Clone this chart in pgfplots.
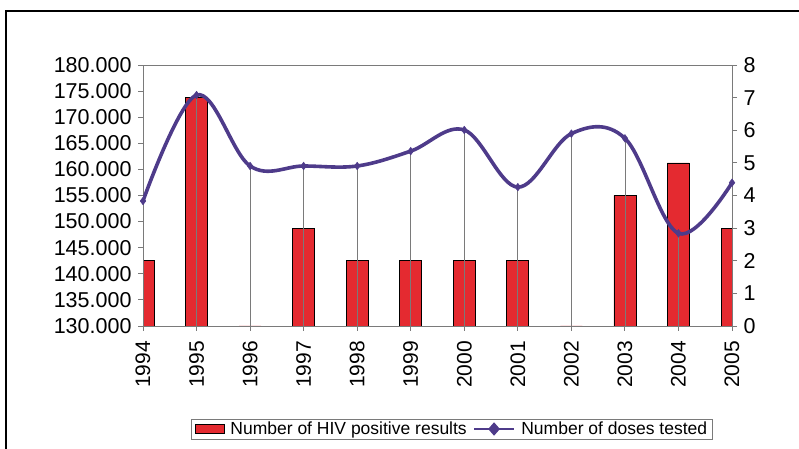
\documentclass[border=0pt]{standalone}
\usepackage{pgfplots}
\pgfplotsset{compat=1.18}
\usepackage{fontspec}
\setmainfont{Liberation Sans}
\definecolor{barred}{HTML}{E42A30}
\definecolor{linepurple}{HTML}{4E3B8A}
\definecolor{axgray}{HTML}{7A7A7A}
\begin{document}
\begin{tikzpicture}[x=1bp,y=1bp]
\useasboundingbox (0,0) rectangle (799,449);
\draw[black, line width=1.1bp] (6,-5) -- (6,438) -- (805,438);
% bars: right axis
\begin{axis}[
  at={(143bp,123bp)}, anchor=south west, scale only axis,
  width=589bp, height=261bp,
  xmin=1994, xmax=2005, ymin=0, ymax=8,
  axis x line=none, axis y line*=right,
  ytick={0,1,...,8},
  yticklabels={0,1,2,3,4,5,6,7,8},
  tick align=outside, major tick length=5bp,
  axis line style={draw=axgray, line width=0.9bp},
  every tick/.style={draw=axgray, line width=0.9bp},
  yticklabel style={font=\fontsize{21.5bp}{23bp}\selectfont, xshift=3bp},
]
\addplot[ybar, bar width=22bp, fill=barred, draw=black, line width=0.7bp]
 coordinates {(1994,2) (1995,7) (1996,0) (1997,3) (1998,2) (1999,2) (2000,2) (2001,2) (2002,0) (2003,4) (2004,5) (2005,3)};
\end{axis}
% line: left axis
\begin{axis}[
  at={(143bp,123bp)}, anchor=south west, scale only axis,
  width=589bp, height=261bp,
  xmin=1994, xmax=2005, ymin=130000, ymax=180000,
  xtick={1994,1995,...,2005},
  xticklabels={1994,1995,1996,1997,1998,1999,2000,2001,2002,2003,2004,2005},
  ytick={130000,135000,...,180000},
  yticklabels={130.000,135.000,140.000,145.000,150.000,155.000,160.000,165.000,170.000,175.000,180.000},
  xtick pos=left, ytick pos=left,
  tick align=outside, major tick length=5bp,
  scaled y ticks=false,
  axis line style={draw=axgray, line width=0.9bp},
  every tick/.style={draw=axgray, line width=0.9bp},
  yticklabel style={font=\fontsize{21.5bp}{23bp}\selectfont, xshift=-3bp},
  xticklabel style={font=\fontsize{21bp}{23bp}\selectfont, rotate=90, anchor=east, inner xsep=10bp},
  legend columns=2,
  legend style={at={(0.5246,-0.3946)}, anchor=center, draw=axgray, line width=0.8bp,
    font=\fontsize{17.5bp}{20bp}\selectfont, inner xsep=3bp, inner ysep=1bp,
    /tikz/every odd column/.append style={column sep=4bp},
    /tikz/every even column/.append style={column sep=4bp}},
]
\addplot[ycomb, draw=axgray, line width=0.8bp, mark=none, forget plot]
 coordinates {(1994,153950) (1995,174250) (1996,160650) (1997,160650) (1998,160650) (1999,163500) (2000,167550) (2001,156600) (2002,166850) (2003,165950) (2004,147750) (2005,157450)};
\addlegendimage{legend image code/.code={\draw[fill=barred, draw=black, line width=0.6bp] (0bp,-4bp) rectangle (29bp,5bp);}}
\addlegendentry{Number of HIV positive results}
\addplot[smooth, tension=0.6, color=linepurple, line width=3.6bp, mark=diamond*, mark size=3.8bp, mark options={solid, line width=0.5bp},
  legend image code/.code={\draw[linepurple, line width=2.6bp] (0bp,0bp) -- (40bp,0bp); \fill[linepurple] (20bp,4bp) -- (23.5bp,0bp) -- (20bp,-4bp) -- (16.5bp,0bp) -- cycle;}]
 coordinates {(1994,153950) (1995,174250) (1996,160650) (1997,160650) (1998,160650) (1999,163500) (2000,167550) (2001,156600) (2002,166850) (2003,165950) (2004,147750) (2005,157450)};
\addlegendentry{Number of doses tested}
\end{axis}
\end{tikzpicture}
\end{document}
